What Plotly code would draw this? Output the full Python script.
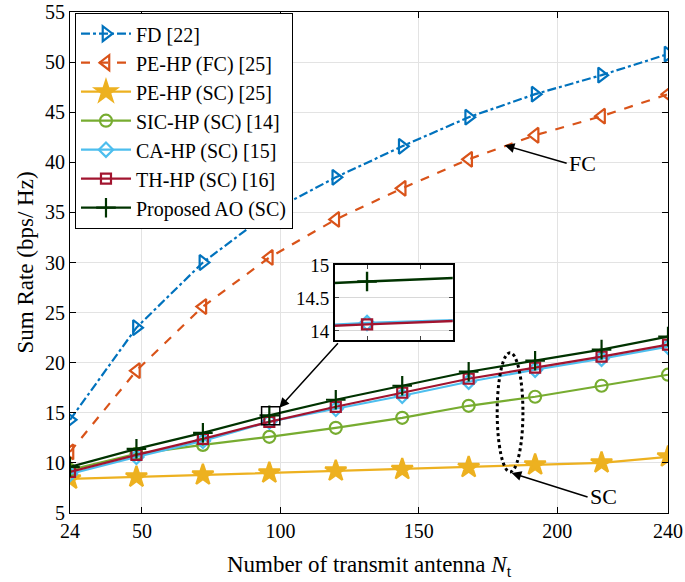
import plotly.graph_objects as go

Nt = [24, 48, 72, 96, 120, 144, 168, 192, 216, 240]
fd = [14.3, 23.5, 30.0, 35.0, 38.5, 41.6, 44.5, 46.8, 48.7, 50.8]
pe_fc = [11.1, 19.2, 25.6, 30.5, 34.3, 37.4, 40.3, 42.7, 44.6, 46.8]
pe_sc = [8.4, 8.6, 8.8, 9.0, 9.2, 9.35, 9.55, 9.8, 10.0, 10.6]
sic = [9.3, 10.9, 11.8, 12.6, 13.5, 14.5, 15.7, 16.6, 17.7, 18.8]
ca = [8.9, 10.6, 12.2, 14.12, 15.4, 16.7, 18.1, 19.3, 20.4, 21.6]
th = [9.1, 10.8, 12.4, 14.1, 15.6, 17.0, 18.4, 19.5, 20.6, 21.8]
ao = [9.6, 11.4, 13.0, 14.75, 16.3, 17.7, 19.1, 20.2, 21.3, 22.6]

names = ["FD [22]", "PE-HP (FC) [25]", "PE-HP (SC) [25]", "SIC-HP (SC) [14]",
         "CA-HP (SC) [15]", "TH-HP (SC) [16]", "Proposed AO (SC)"]
colors = ["#0072BD", "#D95319", "#EDB120", "#77AC30", "#4DBEEE", "#A2142F", "#003300"]
dashes = ["dashdot", "dash", "solid", "solid", "solid", "solid", "solid"]
symbols = ["triangle-right-open", "triangle-left-open", "star", "circle-open",
           "diamond-open", "square-open", "cross-thin-open"]
sizes = [13, 13, 16, 12, 11, 10, 14]
series = [fd, pe_fc, pe_sc, sic, ca, th, ao]

FONT = "Liberation Serif"
fig = go.Figure()
for n, c, d, s, sz, y in zip(names, colors, dashes, symbols, sizes, series):
    fig.add_trace(go.Scatter(
        x=Nt, y=y, name=n, mode="lines+markers",
        line=dict(color=c, width=2.2, dash=d),
        marker=dict(symbol=s, size=sz, color=c, line=dict(color=c, width=2.2)),
    ))

# inset traces
for idx in [4, 5, 6]:
    fig.add_trace(go.Scatter(
        x=Nt, y=series[idx], mode="lines+markers", showlegend=False,
        line=dict(color=colors[idx], width=2.4, dash=dashes[idx]),
        marker=dict(symbol=symbols[idx], size=sizes[idx], color=colors[idx],
                    line=dict(color=colors[idx], width=2.4)),
        xaxis="x2", yaxis="y2",
    ))

axis_common = dict(showline=True, linecolor="black", linewidth=1.2, mirror="ticks",
                   ticks="inside", ticklen=6, tickcolor="black",
                   gridcolor="#e3e3e3", gridwidth=1, zeroline=False, automargin=False,
                   ticklabeloverflow="allow",
                   tickfont=dict(family=FONT, size=20, color="black"))

fig.update_layout(
    width=685, height=582,
    margin=dict(l=70, r=17, t=12, b=69),
    paper_bgcolor="white", plot_bgcolor="white",
    font=dict(family=FONT, color="black"),
    xaxis=dict(range=[24, 240], tickvals=[24, 50, 100, 150, 200, 240],
               title=dict(text="Number of transmit antenna <i>N</i><sub>t</sub>",
                          font=dict(family=FONT, size=23), standoff=14),
               **axis_common),
    yaxis=dict(range=[5, 55], tickvals=list(range(5, 56, 5)),
               title=dict(text="Sum Rate (bps/ Hz)", font=dict(family=FONT, size=23), standoff=4),
               **axis_common),
    xaxis2=dict(domain=[0.443, 0.640], anchor="y2", range=[95.7, 96.8],
                showticklabels=False, showgrid=False,
                showline=True, linecolor="black", linewidth=1.6, mirror="ticks",
                ticks="inside", ticklen=4, zeroline=False, tickvals=[96, 96.5], automargin=False),
    yaxis2=dict(domain=[0.345, 0.495], anchor="x2", range=[13.86, 15.0],
                tickvals=[14, 14.5, 15], ticktext=["14", "14.5", "15"],
                showline=True, linecolor="black", linewidth=1.6, mirror="ticks",
                ticks="inside", ticklen=4, zeroline=False, automargin=False,
                gridcolor="#d8d8d8", showgrid=True,
                tickfont=dict(family=FONT, size=19, color="black")),
    legend=dict(x=0.008, y=0.998, xanchor="left", yanchor="top",
                bgcolor="white", bordercolor="black", borderwidth=1.2,
                font=dict(family=FONT, size=20, color="black"),
                tracegroupgap=0, itemwidth=50),
    showlegend=True,
)

# zoom rectangle on main plot
fig.add_shape(type="rect", xref="x", yref="y", x0=93.2, x1=99.8, y0=13.8, y1=15.6,
              line=dict(color="black", width=1.5))
# dotted ellipse for SC
fig.add_shape(type="circle", xref="x", yref="y", x0=178.3, x1=187.6, y0=9.1, y1=21.0,
              line=dict(color="black", width=3, dash="dot"))

# arrow inset -> rectangle
fig.add_annotation(x=99.6, y=15.5, xref="x", yref="y", ax=60, ay=-66,
                   text="", showarrow=True,
                   arrowhead=2, arrowsize=1.3, arrowwidth=1.5, arrowcolor="black")
# FC annotation
fig.add_annotation(x=181, y=41.7, xref="x", yref="y", ax=62, ay=18,
                   text="FC", showarrow=True, arrowhead=2, arrowsize=1.3,
                   arrowwidth=1.5, arrowcolor="black",
                   font=dict(family=FONT, size=22, color="black"), xanchor="left")
# SC annotation
fig.add_annotation(x=183.5, y=9.0, xref="x", yref="y", ax=76, ay=24,
                   text="SC", showarrow=True, arrowhead=2, arrowsize=1.3,
                   arrowwidth=1.5, arrowcolor="black",
                   font=dict(family=FONT, size=22, color="black"), xanchor="left")

# remove the default page margin so the figure fills the window exactly
fig.write_html("out.html", config={"displayModeBar": False},
               post_script="document.body.style.margin='0';document.body.style.overflow='hidden';")
